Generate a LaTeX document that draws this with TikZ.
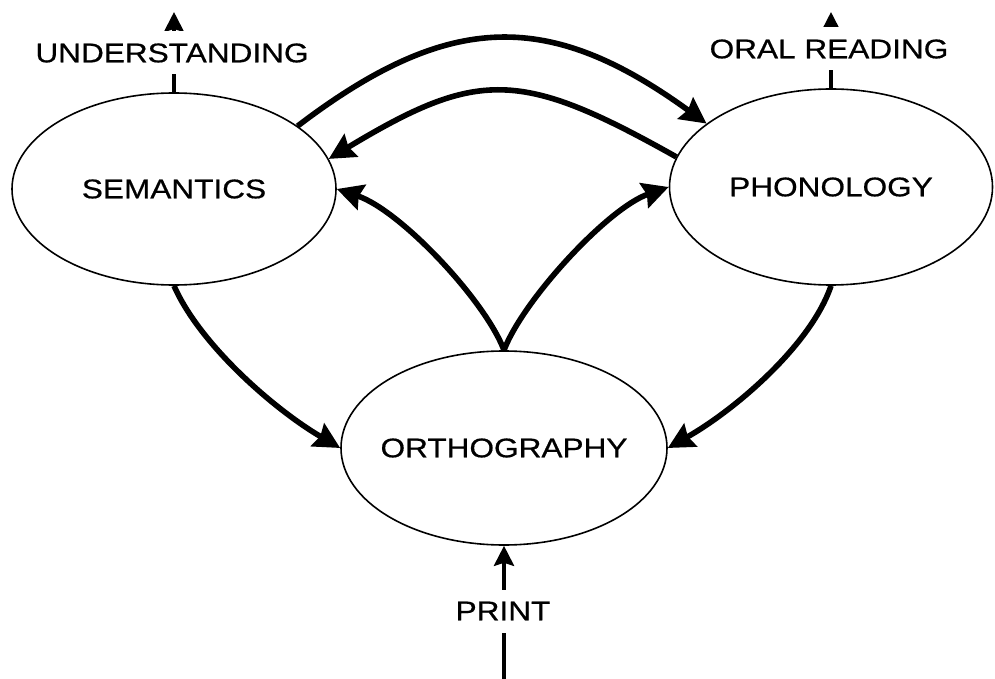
\documentclass[tikz,border=0pt]{standalone}
\usepackage{fontspec}
\setmainfont[FakeStretch=1.17,FakeBold=0.6]{Liberation Sans}
\usetikzlibrary{shapes.geometric,arrows.meta}
\begin{document}
\begin{tikzpicture}[x=0.5pt,y=-0.5pt,
  ell/.style={draw, ellipse, line width=0.8pt, inner sep=0pt, font=\fontsize{13.5}{16}\selectfont},
  lab/.style={fill=white, inner sep=0pt, minimum height=21.5pt, font=\fontsize{13.5}{16}\selectfont},
  mainarrow/.style={line width=2.8pt, -{Stealth[length=13pt,width=13pt,inset=1.5pt]}},
  outarrow/.style={line width=2pt, -{Stealth[length=10pt,width=10pt,inset=1.5pt]}}]
\useasboundingbox (0,0) rectangle (995,679);
\node[ell, minimum width=162pt, minimum height=96pt] (sem) at (174,189) {\makebox[0pt]{SEMANTICS}};
\node[ell, minimum width=161.5pt, minimum height=98pt] (pho) at (831,187) {\makebox[0pt]{PHONOLOGY}};
\node[ell, minimum width=163pt, minimum height=97pt] (ort) at (504,448) {\makebox[0pt]{ORTHOGRAPHY}};
\coordinate (utip) at (174,12);
\coordinate (otip) at (831,12);
\coordinate (pbot) at (504,679);
\draw[outarrow] (sem.north) -- (utip);
\draw[outarrow] (pho.north) -- (otip);
\draw[outarrow] (pbot) -- (ort.south);
\node[lab] (und) at (172,53) {UNDERSTANDING};
\node[lab] (oral) at (829,49) {ORAL READING};
\node[lab] (print) at (503,611) {PRINT};
\draw[mainarrow] (sem.27) .. controls (450,10) and (550,10) .. (pho.153);
\draw[mainarrow] (pho.169) .. controls (520,69) and (478,69) .. (sem.11);
\draw[mainarrow] (ort.north) .. controls (485,300) and (400,210) .. (sem.east);
\draw[mainarrow] (ort.north) .. controls (523,300) and (608,208) .. (pho.west);
\draw[mainarrow] (sem.south) .. controls (200,345) and (275,410) .. (ort.west);
\draw[mainarrow] (pho.south) .. controls (811,345) and (735,410) .. (ort.east);
\end{tikzpicture}
\end{document}
